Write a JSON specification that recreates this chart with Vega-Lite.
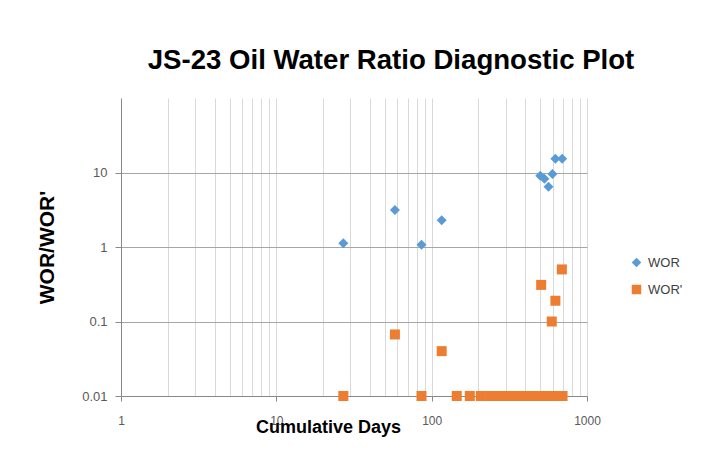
{
  "$schema": "https://vega.github.io/schema/vega-lite/v6.json",
  "width": 466,
  "height": 298,
  "autosize": "none",
  "padding": {"left": 121, "top": 98, "right": 122, "bottom": 69},
  "background": "white",
  "title": {
    "text": "JS-23 Oil Water Ratio Diagnostic Plot",
    "font": "Liberation Sans",
    "fontSize": 27.6,
    "fontWeight": "bold",
    "color": "#000000",
    "anchor": "middle",
    "frame": "group",
    "dx": 37,
    "baseline": "alphabetic",
    "offset": 1
  },
  "config": {
    "view": {"stroke": null},
    "axis": {"labelFont": "Liberation Sans", "titleFont": "Liberation Sans"},
    "legend": {"labelFont": "Liberation Sans"}
  },
  "data": {
    "values": [
      {"series": "WOR", "days": 27, "ratio": 1.12},
      {"series": "WOR", "days": 58, "ratio": 3.14},
      {"series": "WOR", "days": 86, "ratio": 1.07},
      {"series": "WOR", "days": 116, "ratio": 2.28},
      {"series": "WOR", "days": 500, "ratio": 9.06},
      {"series": "WOR", "days": 532, "ratio": 8.26},
      {"series": "WOR", "days": 565, "ratio": 6.45},
      {"series": "WOR", "days": 599, "ratio": 9.55},
      {"series": "WOR", "days": 626, "ratio": 15.3},
      {"series": "WOR", "days": 692, "ratio": 15.3},
      {"series": "WOR'", "days": 27, "ratio": 0.01},
      {"series": "WOR'", "days": 58, "ratio": 0.067},
      {"series": "WOR'", "days": 86, "ratio": 0.01},
      {"series": "WOR'", "days": 116, "ratio": 0.04},
      {"series": "WOR'", "days": 145, "ratio": 0.01},
      {"series": "WOR'", "days": 176, "ratio": 0.01},
      {"series": "WOR'", "days": 207, "ratio": 0.01},
      {"series": "WOR'", "days": 238, "ratio": 0.01},
      {"series": "WOR'", "days": 268, "ratio": 0.01},
      {"series": "WOR'", "days": 299, "ratio": 0.01},
      {"series": "WOR'", "days": 330, "ratio": 0.01},
      {"series": "WOR'", "days": 360, "ratio": 0.01},
      {"series": "WOR'", "days": 391, "ratio": 0.01},
      {"series": "WOR'", "days": 421, "ratio": 0.01},
      {"series": "WOR'", "days": 452, "ratio": 0.01},
      {"series": "WOR'", "days": 482, "ratio": 0.01},
      {"series": "WOR'", "days": 513, "ratio": 0.01},
      {"series": "WOR'", "days": 543, "ratio": 0.01},
      {"series": "WOR'", "days": 574, "ratio": 0.01},
      {"series": "WOR'", "days": 635, "ratio": 0.01},
      {"series": "WOR'", "days": 665, "ratio": 0.01},
      {"series": "WOR'", "days": 696, "ratio": 0.01},
      {"series": "WOR'", "days": 507, "ratio": 0.31},
      {"series": "WOR'", "days": 593, "ratio": 0.1},
      {"series": "WOR'", "days": 626, "ratio": 0.19},
      {"series": "WOR'", "days": 689, "ratio": 0.5}
    ]
  },
  "mark": {"type": "point", "filled": true, "opacity": 1, "size": 100},
  "encoding": {
    "x": {
      "field": "days",
      "type": "quantitative",
      "scale": {"type": "log", "domain": [1, 1000], "nice": false},
      "axis": {
        "title": "Cumulative Days",
        "titleFontSize": 18,
        "titleFontWeight": "bold",
        "titleColor": "#000000",
        "titleX": 207,
        "titleY": 36,
        "titleAlign": "center",
        "titleBaseline": "alphabetic",
        "values": [1, 2, 3, 4, 5, 6, 7, 8, 9, 10, 20, 30, 40, 50, 60, 70, 80, 90, 100, 200, 300, 400, 500, 600, 700, 800, 900, 1000],
        "format": "d",
        "labelExpr": "indexof([1, 10, 100, 1000], datum.value) >= 0 ? datum.label : ''",
        "labelOverlap": false,
        "labelFlush": false,
        "labelFontSize": 12,
        "labelColor": "#595959",
        "labelPadding": 14,
        "tickOpacity": {"condition": {"test": "indexof([1, 10, 100, 1000], datum.value) >= 0", "value": 1}, "value": 0},
        "tickColor": "#888888",
        "tickSize": 5,
        "domainColor": "#888888",
        "grid": true,
        "gridColor": "#d9d9d9",
        "gridWidth": 1
      }
    },
    "y": {
      "field": "ratio",
      "type": "quantitative",
      "scale": {"type": "log", "domain": [0.01, 100], "nice": false},
      "axis": {
        "title": "WOR/WOR'",
        "titleFontSize": 21,
        "titleFontWeight": "bold",
        "titleColor": "#000000",
        "titleX": -68,
        "titleY": 149,
        "titleAlign": "center",
        "titleBaseline": "alphabetic",
        "values": [0.01, 0.1, 1, 10],
        "format": "~g",
        "labelOverlap": false,
        "labelFlush": false,
        "labelFontSize": 13,
        "labelColor": "#595959",
        "labelPadding": 8,
        "tickColor": "#888888",
        "tickSize": 6,
        "domainColor": "#888888",
        "grid": true,
        "gridColor": "#a6a6a6"
      }
    },
    "color": {
      "field": "series",
      "type": "nominal",
      "scale": {"domain": ["WOR", "WOR'"], "range": ["#5b9bd5", "#ed7d31"]},
      "legend": {
        "title": null,
        "orient": "none",
        "legendX": 509,
        "legendY": 158,
        "labelFontSize": 13,
        "labelColor": "#404040",
        "symbolSize": 90,
        "rowPadding": 13,
        "labelOffset": 5
      }
    },
    "shape": {
      "field": "series",
      "type": "nominal",
      "scale": {"domain": ["WOR", "WOR'"], "range": ["diamond", "square"]},
      "legend": null
    }
  }
}
